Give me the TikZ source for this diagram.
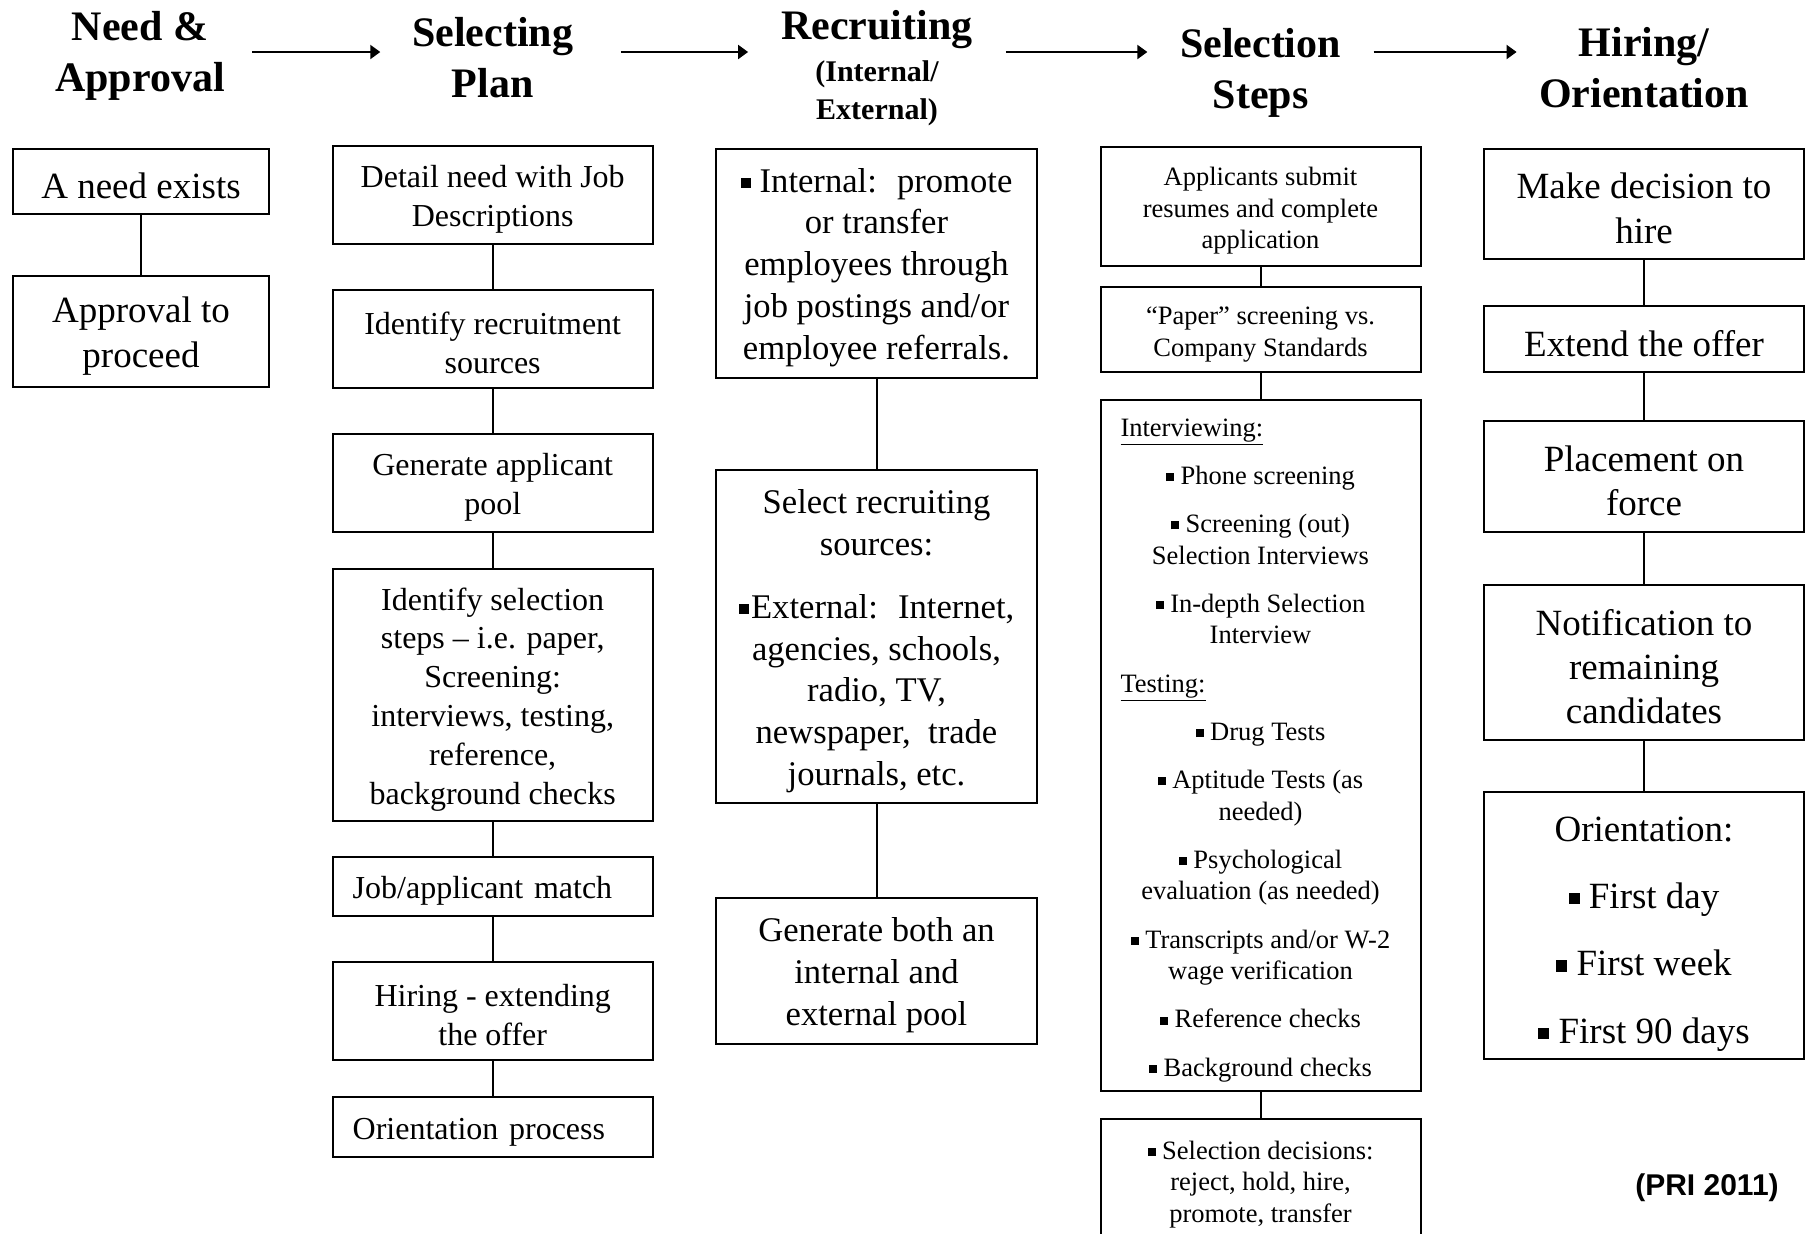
\documentclass[tikz,border=0pt]{standalone}
\usepackage{fontspec}
\setmainfont{Liberation Serif}
\newfontfamily\arialfont{Liberation Sans}
\usetikzlibrary{positioning,arrows.meta}

\newcommand{\sqb}{\rule[0.12em]{0.3em}{0.3em}}
\newcommand{\ts}[1][4.6pt]{\rule{0pt}{\dimexpr0.683em+#1\relax}}

\begin{document}
\begin{tikzpicture}[x=1pt,y=1pt,
  box/.style={draw, line width=1pt, outer sep=0pt, minimum width=160pt, inner xsep=10pt, inner ysep=2pt, align=center},
  lbox/.style={box, text width=140pt, align=left},
  head/.style={font=\fontsize{21}{25.5}\selectfont\bfseries, align=center, inner sep=0pt},
  fa/.style={font=\fontsize{18.5}{22.2}\selectfont},
  fb/.style={font=\fontsize{16}{19.4}\selectfont},
  fc/.style={font=\fontsize{17.3}{20.9}\selectfont},
  fd/.style={font=\fontsize{13.25}{15.8}\selectfont},
  link/.style={line width=1pt},
  harrow/.style={line width=1pt, -{Triangle[length=5pt,width=7pt]}}]
\useasboundingbox (0,0) rectangle (902.5,-616.5);
\clip (0,0) rectangle (902.5,-616.5);

% titles
\node[head, minimum width=112pt] (TN) at (70,-28) {Need \&\\Approval};
\node[head, minimum width=112pt] (TP) at (246.35,-28.75) {Selecting\\Plan};
\node[head, minimum width=128.5pt] (TR) at (438.5,-14.8) {Recruiting};
\node[font=\fontsize{15}{19}\selectfont\bfseries, align=center] (TRs) at (438.5,-46.7) {(Internal/\\External)};
\node[head, minimum width=112.75pt] (TS) at (630.25,-36.25) {Selection\\Steps};
\node[head, minimum width=127pt] (TH) at (822,-33.6) {Hiring/\\Orientation};

\coordinate (AR) at ([yshift=2pt]TN.east);
\draw[harrow] (AR) -- (TP.west |- AR);
\draw[harrow, shorten <=7.9pt] (TP.east |- AR) -- (TR.west |- AR);
\draw[harrow] (TR.east |- AR) -- (TS.west |- AR);
\draw[harrow] (TS.east |- AR) -- (TH.west |- AR);

% need & approval
\node[box, fa, minimum width=128.4pt, minimum height=32.75pt, anchor=north] (N1) at (70.5,-74.25) {\ts A need exists};
\node[box, fa, minimum width=128.4pt, minimum height=55.5pt, below=31pt of N1] (N2) {\ts Approval to\\proceed};

% selecting plan
\node[box, fb, minimum height=49pt, anchor=north] (P1) at (246.35,-73) {\ts Detail need with Job\\Descriptions};
\node[box, fb, minimum height=49pt, below=23pt of P1] (P2) {\ts Identify recruitment\\sources};
\node[box, fb, minimum height=49pt, below=23pt of P2] (P3) {\ts Generate applicant\\pool};
\node[box, fb, minimum height=126pt, below=18.5pt of P3] (P4) {\ts Identify selection\\steps -- i.e. paper,\\Screening:\\interviews, testing,\\reference,\\background checks};
\node[lbox, fb, minimum height=29.75pt, below=17.75pt of P4] (P5) {\ts Job/applicant match};
\node[box, fb, minimum height=49pt, below=23pt of P5] (P6) {\ts Hiring - extending\\the offer};
\node[lbox, fb, minimum height=30pt, below=18.5pt of P6] (P7) {\ts Orientation process};

% recruiting
\node[box, fc, minimum width=160.5pt, minimum height=114.5pt, anchor=north] (R1) at (438.25,-74.25) {\ts\sqb{} Internal:~ promote\\or transfer\\employees through\\job postings and/or\\employee referrals.};
\node[box, fc, minimum width=160.5pt, minimum height=166.75pt, below=46.2pt of R1] (R2) {\ts Select recruiting\\sources:\\[10.7pt]\sqb\kern1pt External:~ Internet,\\agencies, schools,\\radio, TV,\\newspaper,~ trade\\journals, etc.};
\node[box, fc, minimum width=160.5pt, minimum height=73pt, below=47.25pt of R2] (R3) {\ts Generate both an\\internal and\\external pool};

% selection steps
\node[box, fd, minimum height=59.5pt, anchor=north] (S1) at (630.25,-73.5) {\ts Applicants submit\\resumes and complete\\application};
\node[box, fd, minimum height=42.5pt, below=10.5pt of S1] (S2) {\ts “Paper” screening vs.\\Company Standards};
\node[box, fd, minimum height=345.75pt, below=13.75pt of S2] (S3) {\ts\makebox[140pt][l]{\underline{Interviewing:}}\\[8.3pt]
  \sqb{} Phone screening\\[8.3pt]
  \sqb{} Screening (out)\\Selection Interviews\\[8.3pt]
  \sqb{} In-depth Selection\\Interview\\[8.3pt]
  \makebox[140pt][l]{\underline{Testing:}}\\[8.3pt]
  \sqb{} Drug Tests\\[8.3pt]
  \sqb{} Aptitude Tests (as\\needed)\\[8.3pt]
  \sqb{} Psychological\\evaluation (as needed)\\[8.3pt]
  \sqb{} Transcripts and/or W-2\\wage verification\\[8.3pt]
  \sqb{} Reference checks\\[8.3pt]
  \sqb{} Background checks};
\node[box, fd, minimum height=61pt, below=14pt of S3] (S4) {\ts\sqb{} Selection decisions:\\reject, hold, hire,\\promote, transfer};

% hiring / orientation
\node[box, fa, minimum height=55.25pt, anchor=north] (H1) at (822,-74.25) {\ts Make decision to\\hire};
\node[box, fa, minimum height=33pt, below=23.5pt of H1] (H2) {\ts Extend the offer};
\node[box, fa, minimum height=55.5pt, below=24.5pt of H2] (H3) {\ts Placement on\\force};
\node[box, fa, minimum height=77.5pt, below=26.5pt of H3] (H4) {\ts Notification to\\remaining\\candidates};
\node[box, fa, minimum height=133.5pt, below=26pt of H4] (H5) {\ts[8.2pt]Orientation:\\[11.4pt]\sqb{} First day\\[11.4pt]\sqb{} First week\\[11.4pt]\sqb{} First 90 days};

\node[font=\arialfont\bfseries\fontsize{15}{18}\selectfont] (PRI) at (853.5,-594) {(PRI 2011)};

\draw[link] (N1) -- (N2);
\draw[link] (P1) -- (P2);
\draw[link] (P2) -- (P3);
\draw[link] (P3) -- (P4);
\draw[link] (P4) -- (P5);
\draw[link] (P5) -- (P6);
\draw[link] (P6) -- (P7);
\draw[link] (R1) -- (R2);
\draw[link] (R2) -- (R3);
\draw[link] (S1) -- (S2);
\draw[link] (S2) -- (S3);
\draw[link] (S3) -- (S4);
\draw[link] (H1) -- (H2);
\draw[link] (H2) -- (H3);
\draw[link] (H3) -- (H4);
\draw[link] (H4) -- (H5);
\end{tikzpicture}
\end{document}
